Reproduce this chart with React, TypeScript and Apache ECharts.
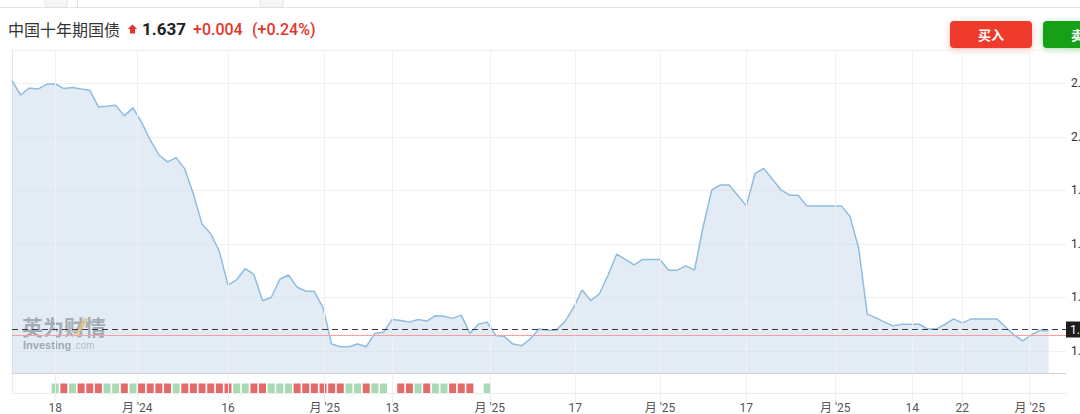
import React, { useEffect, useRef } from 'react';
import * as echarts from 'echarts';

// ---- data ----
const yields = [
  2.105, 2.078, 2.091, 2.089, 2.098, 2.099, 2.090, 2.092, 2.089, 2.087,
  2.056, 2.057, 2.059, 2.039, 2.054, 2.027, 1.994, 1.966, 1.953, 1.961,
  1.940, 1.893, 1.837, 1.819, 1.786, 1.723, 1.733, 1.754, 1.743, 1.694,
  1.700, 1.734, 1.742, 1.719, 1.712, 1.711, 1.681, 1.613, 1.608, 1.608,
  1.613, 1.608, 1.633, 1.635, 1.659, 1.657, 1.654, 1.659, 1.656, 1.666,
  1.665, 1.661, 1.667, 1.633, 1.650, 1.654, 1.629, 1.627, 1.613, 1.610,
  1.623, 1.641, 1.639, 1.639, 1.655, 1.681, 1.714, 1.694, 1.707, 1.742,
  1.781, 1.771, 1.761, 1.771, 1.771, 1.771, 1.751, 1.751, 1.759, 1.751,
  1.832, 1.901, 1.910, 1.910, 1.891, 1.871, 1.931, 1.941, 1.921, 1.901,
  1.891, 1.891, 1.871, 1.871, 1.871, 1.871, 1.871, 1.851, 1.792, 1.669,
  1.662, 1.654, 1.647, 1.650, 1.650, 1.650, 1.641, 1.641, 1.650, 1.660,
  1.652, 1.660, 1.660, 1.660, 1.660, 1.645, 1.630, 1.619, 1.630, 1.639,
  1.637,
];
const prevClose = 1.633;
const lastPrice = 1.637;
const change = '+0.004';
const changePct = '(+0.24%)';
const titleText = '中国十年期国债';

// x-axis ticks (in data-index units) and their labels
const tickValues = [5, 14.5, 25, 36.2, 44, 55.3, 65.2, 75, 85, 95.3, 104.2, 110, 117.8];
const tickLabels = ['18', "月 '24", '16', "月 '25", '13', "月 '25", '17', "月 '25", '17', "月 '25", '14', '22', "月 '25"];

// lower pane bars: first bar sits at this index, then one per index
const volumeStart = 5;
const volumeHeights = [
  1, 1, 1, 1, 1, 1, 1, 1, 1, 1, 1, 1, 1, 1, 1, 1, 1, 1, 1, 1,
  1, 1, 1, 1, 1, 1, 1, 1, 1, 1, 1, 1, 1, 1, 1, 1, 1, 1, 1, 0,
  1, 1, 1, 1, 1, 1, 1, 1, 1, 0, 1,
];
const volumeDir = [
  'g', 'r', 'g', 'r', 'r', 'r', 'g', 'g', 'r', 'g', 'r', 'r', 'r', 'r', 'g', 'r', 'r', 'r', 'r', 'r',
  'r', 'g', 'g', 'r', 'r', 'g', 'g', 'g', 'r', 'r', 'r', 'r', 'r', 'r', 'g', 'g', 'r', 'g', 'g', '',
  'r', 'r', 'g', 'r', 'g', 'g', 'r', 'r', 'r', '', 'g',
];

const FONT = 'Roboto, "Noto Sans CJK SC", sans-serif';
const CJK = '"Noto Sans CJK SC", sans-serif';

export default function App() {
  const ref = useRef<HTMLDivElement>(null);

  useEffect(() => {
    if (!ref.current) return;
    const chart = echarts.init(ref.current, undefined, { renderer: 'svg' });

    const lineData = yields.map((v, i) => [i, v]);
    const barData = volumeHeights
      .map((h, k) => ({
        value: [volumeStart + k, h],
        itemStyle: { color: volumeDir[k] === 'g' ? '#a7dab5' : '#e46a6a' },
      }))
      .filter((d) => d.value[1] > 0);

    const labelFor = (v: number) => {
      const idx = tickValues.findIndex((t) => Math.abs(t - v) < 1e-6);
      return idx >= 0 ? tickLabels[idx] : '';
    };

    const option: any = {
      animation: false,
      textStyle: { fontFamily: FONT },
      grid: [
        { left: 12, top: 50, right: 64, bottom: 41 },
        { left: 12, top: 374, right: 64, height: 20 },
      ],
      xAxis: [
        {
          type: 'value',
          gridIndex: 0,
          min: 0,
          max: 122,
          axisLine: { show: true, lineStyle: { color: '#d4d4d4', width: 1 } },
          axisTick: { show: false },
          axisLabel: { show: false },
          splitLine: { show: false },
        },
        {
          type: 'value',
          gridIndex: 1,
          min: 0,
          max: 122,
          axisLine: { show: true, lineStyle: { color: '#ececec', width: 1 } },
          axisTick: {
            show: true,
            customValues: tickValues,
            length: 9,
            lineStyle: { color: '#ececec' },
          },
          axisLabel: {
            show: true,
            customValues: tickValues,
            formatter: (v: number) => labelFor(v),
            color: '#555',
            fontSize: 12,
            margin: 9,
            fontFamily: FONT,
          },
          splitLine: { show: false },
        },
      ],
      yAxis: [
        {
          type: 'value',
          gridIndex: 0,
          position: 'right',
          min: 1.559,
          max: 2.162,
          splitNumber: 6,
          axisLine: { show: true, lineStyle: { color: '#e6e6e6' } },
          axisTick: { show: false },
          axisLabel: {
            color: '#333',
            fontSize: 12,
            margin: 5,
            formatter: (v: number) =>
              Math.abs(v * 10 - Math.round(v * 10)) < 1e-6 ? v.toFixed(1) : '',
          },
          splitLine: { show: true, lineStyle: { color: '#f0f0f0', width: 1 } },
        },
        {
          type: 'value',
          gridIndex: 1,
          position: 'right',
          min: 0,
          max: 2,
          axisLine: { show: true, lineStyle: { color: '#ececec' } },
          axisTick: { show: false },
          axisLabel: { show: false },
          splitLine: { show: false },
        },
      ],
      series: [
        {
          // vertical gridlines of the price pane
          type: 'line',
          xAxisIndex: 0,
          yAxisIndex: 0,
          data: lineData,
          showSymbol: false,
          silent: true,
          z: 1,
          lineStyle: { opacity: 0 },
          markLine: {
            silent: true,
            symbol: 'none',
            label: { show: false },
            lineStyle: { color: '#f0f0f0', type: 'solid', width: 1 },
            data: tickValues.map((t) => ({ xAxis: t })),
          },
        },
        {
          type: 'line',
          xAxisIndex: 0,
          yAxisIndex: 0,
          data: lineData,
          showSymbol: false,
          z: 2,
          lineStyle: { color: '#8ebde0', width: 1.5 },
          areaStyle: { color: '#c8daec', opacity: 0.5 },
        },
        {
          // previous close and last price lines
          type: 'line',
          xAxisIndex: 0,
          yAxisIndex: 0,
          data: [],
          z: 4,
          markLine: {
            silent: true,
            symbol: 'none',
            data: [
              {
                yAxis: prevClose,
                lineStyle: { color: '#f2a0a0', type: 'solid', width: 1 },
                label: { show: false },
              },
              {
                yAxis: lastPrice,
                lineStyle: { color: '#3a3a3a', type: [6, 4], width: 1 },
                label: {
                  show: true,
                  position: 'end',
                  distance: 0,
                  formatter: lastPrice.toFixed(3),
                  backgroundColor: '#1e1e1e',
                  color: '#fff',
                  fontSize: 12,
                  padding: [2, 4],
                },
              },
            ],
          },
        },
        {
          type: 'bar',
          xAxisIndex: 1,
          yAxisIndex: 1,
          data: barData,
          barWidth: 7,
          markLine: {
            silent: true,
            symbol: 'none',
            label: { show: false },
            lineStyle: { color: '#f0f0f0', type: 'solid', width: 1 },
            data: tickValues.map((t) => ({ xAxis: t })),
          },
        },
      ],
      graphic: [
        // top toolbar remnants
        { type: 'line', shape: { x1: 0, y1: 7.5, x2: 1130, y2: 7.5 }, style: { stroke: '#e2e2e2', lineWidth: 1 } },
        { type: 'rect', shape: { x: 45, y: -3, width: 22, height: 10, r: 2 }, style: { fill: '#f6f6f6', stroke: '#e4e4e4' } },
        { type: 'rect', shape: { x: 260, y: -3, width: 23, height: 10, r: 2 }, style: { fill: '#f6f6f6', stroke: '#e4e4e4' } },
        { type: 'line', shape: { x1: 77.5, y1: 0, x2: 77.5, y2: 7 }, style: { stroke: '#e2e2e2', lineWidth: 1 } },
        // title
        {
          type: 'text',
          x: 8,
          y: 29,
          style: { text: titleText, fontSize: 16, fontFamily: CJK, fill: '#333', verticalAlign: 'middle' },
        },
        {
          type: 'polygon',
          shape: { points: [[132.5, 24.5], [137.2, 29], [135, 29], [135, 33.5], [130, 33.5], [130, 29], [127.8, 29]] },
          style: { fill: '#e5352b' },
        },
        {
          type: 'text',
          x: 142,
          y: 29,
          style: { text: lastPrice.toFixed(3), fontSize: 17, fontWeight: 'bold', fontFamily: FONT, fill: '#222', verticalAlign: 'middle' },
        },
        {
          type: 'text',
          x: 193,
          y: 29,
          style: { text: change, fontSize: 16, fontWeight: 500, fontFamily: FONT, fill: '#e5352b', verticalAlign: 'middle' },
        },
        {
          type: 'text',
          x: 252,
          y: 29,
          style: { text: changePct, fontSize: 16, fontWeight: 500, fontFamily: FONT, fill: '#e5352b', verticalAlign: 'middle' },
        },
        // buttons
        {
          type: 'rect',
          shape: { x: 950, y: 21, width: 82, height: 27, r: 4 },
          style: { fill: '#ee3a2d', shadowBlur: 6, shadowColor: 'rgba(238,58,45,0.35)', shadowOffsetY: 2 },
        },
        {
          type: 'text',
          x: 991,
          y: 34.5,
          style: { text: '买入', fontSize: 13, fontWeight: 'bold', fontFamily: CJK, fill: '#fff', align: 'center', verticalAlign: 'middle' },
        },
        {
          type: 'rect',
          shape: { x: 1043, y: 21, width: 82, height: 27, r: 4 },
          style: { fill: '#14a014', shadowBlur: 6, shadowColor: 'rgba(20,160,20,0.35)', shadowOffsetY: 2 },
        },
        {
          type: 'text',
          x: 1084,
          y: 34.5,
          style: { text: '卖出', fontSize: 13, fontWeight: 'bold', fontFamily: CJK, fill: '#fff', align: 'center', verticalAlign: 'middle' },
        },
        // watermark
        {
          type: 'text',
          x: 22,
          y: 326,
          z: 0,
          style: { text: '英为财情', fontSize: 21, fontWeight: 'bold', fontFamily: CJK, fill: 'rgba(90,90,90,0.8)', verticalAlign: 'middle' },
        },
        {
          type: 'polygon',
          z: 0,
          shape: { points: [[84, 318], [88, 319], [79, 335], [75, 334]] },
          style: { fill: 'rgba(245,170,40,0.85)' },
        },
        {
          type: 'text',
          x: 23,
          y: 345,
          z: 0,
          style: { text: 'Investing', fontSize: 11, fontWeight: 'bold', fontFamily: '"Liberation Sans", Arial, sans-serif', fill: 'rgba(90,90,90,0.85)', verticalAlign: 'middle' },
        },
        {
          type: 'text',
          x: 73,
          y: 345.5,
          z: 0,
          style: { text: '.com', fontSize: 10, fontFamily: '"Liberation Sans", Arial, sans-serif', fill: 'rgba(140,140,140,0.85)', verticalAlign: 'middle' },
        },
      ],
    };

    chart.setOption(option);
    return () => chart.dispose();
  }, []);

  return (
    <div
      style={{
        position: 'fixed',
        left: 0,
        top: 0,
        width: 1080,
        height: 414,
        overflow: 'hidden',
        background: '#fff',
      }}
    >
      <div ref={ref} style={{ width: 1130, height: 414 }} />
    </div>
  );
}
